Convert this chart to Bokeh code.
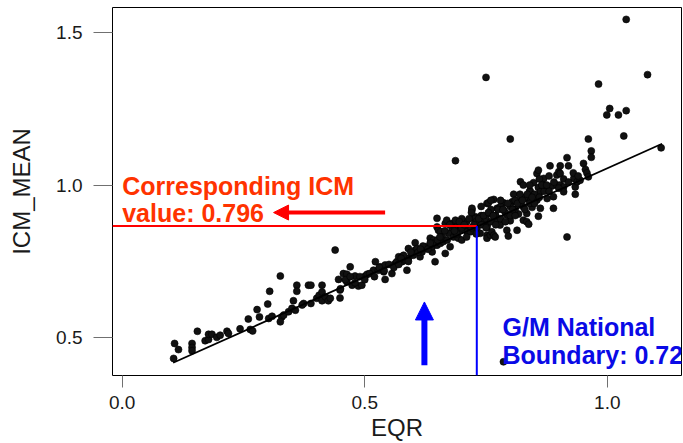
from bokeh.plotting import figure
from bokeh.models import Arrow, NormalHead, FixedTicker, NumeralTickFormatter, ColumnDataSource
from bokeh.core.properties import value
from bokeh.embed import file_html
from bokeh.resources import INLINE

# ---- data ----
eqr = [
    0.106, 0.108, 0.116, 0.144, 0.144, 0.144, 0.155, 0.171, 0.178, 0.178,
    0.185, 0.195, 0.202, 0.216, 0.219, 0.243, 0.260, 0.264, 0.269, 0.278,
    0.283, 0.300, 0.304, 0.302, 0.309, 0.326, 0.329, 0.326, 0.333, 0.343,
    0.350, 0.353, 0.360, 0.360, 0.357, 0.374, 0.371, 0.384, 0.389, 0.389,
    0.401, 0.406, 0.412, 0.412, 0.412, 0.419, 0.425, 0.429, 0.439, 0.446,
    0.449, 0.449, 0.456, 0.463, 0.463, 0.470, 0.474, 0.480, 0.487, 0.494,
    0.501, 0.505, 0.518, 0.522, 0.528, 0.532, 0.539, 0.542, 0.542, 0.556,
    0.563, 0.566, 0.570, 0.577, 0.577, 0.584, 0.587, 0.590, 0.590, 0.604,
    0.604, 0.608, 0.614, 0.618, 0.618, 0.625, 0.635, 0.639, 0.639, 0.642,
    0.645, 0.649, 0.649, 0.649, 0.652, 0.656, 0.656, 0.662, 0.666, 0.666,
    0.669, 0.673, 0.676, 0.680, 0.683, 0.687, 0.687, 0.687, 0.690, 0.693,
    0.697, 0.697, 0.700, 0.707, 0.711, 0.718, 0.721, 0.721, 0.724, 0.728,
    0.728, 0.731, 0.738, 0.738, 0.742, 0.745, 0.750, 0.752, 0.752, 0.752,
    0.752, 0.752, 0.755, 0.759, 0.759, 0.762, 0.766, 0.766, 0.769, 0.773,
    0.773, 0.779, 0.786, 0.786, 0.786, 0.793, 0.793, 0.796, 0.800, 0.800,
    0.804, 0.807, 0.807, 0.814, 0.817, 0.817, 0.821, 0.827, 0.827, 0.827,
    0.834, 0.834, 0.834, 0.838, 0.841, 0.845, 0.848, 0.855, 0.855, 0.858,
    0.858, 0.858, 0.862, 0.862, 0.869, 0.876, 0.876, 0.882, 0.886, 0.889,
    0.889, 0.896, 0.896, 0.900, 0.903, 0.903, 0.903, 0.910, 0.910, 0.917,
    0.917, 0.920, 0.931, 0.934, 0.934, 0.938, 0.944, 0.951, 0.955, 0.958,
    0.961, 0.961, 0.967, 0.967, 0.982, 0.999, 1.005, 1.023, 1.034, 1.039,
    1.039, 1.083, 1.111,
    0.45, 0.46, 0.47, 0.48, 0.49, 0.50, 0.51, 0.52, 0.53, 0.54,
    0.55, 0.56, 0.57, 0.58, 0.59, 0.60, 0.61, 0.62, 0.63, 0.64,
    0.65, 0.66, 0.67, 0.68, 0.69, 0.70, 0.71, 0.72, 0.73, 0.74,
    0.74, 0.75, 0.76, 0.76, 0.77, 0.78, 0.78, 0.79, 0.80, 0.80,
    0.81, 0.81, 0.82, 0.83, 0.84, 0.84, 0.85, 0.86, 0.87, 0.87,
    0.88, 0.89, 0.90, 0.91, 0.92, 0.93, 0.94, 0.71, 0.73, 0.75,
    0.77, 0.79, 0.81, 0.83, 0.85, 0.70, 0.72, 0.74, 0.76, 0.78,
    0.82, 0.86, 0.88, 0.84,
    0.575, 0.595, 0.615, 0.635, 0.655, 0.665, 0.675, 0.685, 0.695, 0.705,
    0.715, 0.725, 0.735, 0.745, 0.755, 0.765, 0.775, 0.785, 0.795, 0.805,
    0.815, 0.825, 0.835, 0.845, 0.865, 0.875,
]
icm_mean = [
    0.432, 0.481, 0.461, 0.481, 0.468, 0.457, 0.521, 0.490, 0.494, 0.511,
    0.511, 0.501, 0.508, 0.521, 0.514, 0.529, 0.561, 0.527, 0.522, 0.592,
    0.568, 0.610, 0.652, 0.563, 0.570, 0.702, 0.568, 0.552, 0.574, 0.585,
    0.596, 0.621, 0.672, 0.652, 0.590, 0.612, 0.607, 0.672, 0.672, 0.612,
    0.629, 0.639, 0.672, 0.650, 0.621, 0.634, 0.621, 0.629, 0.787, 0.691,
    0.630, 0.656, 0.710, 0.708, 0.683, 0.732, 0.672, 0.702, 0.669, 0.672,
    0.702, 0.708, 0.721, 0.749, 0.721, 0.732, 0.716, 0.738, 0.691, 0.710,
    0.743, 0.749, 0.765, 0.765, 0.749, 0.754, 0.721, 0.760, 0.792, 0.811,
    0.787, 0.792, 0.765, 0.787, 0.781, 0.798, 0.826, 0.781, 0.798, 0.820,
    0.749, 0.803, 0.891, 0.863, 0.852, 0.809, 0.847, 0.815, 0.874, 0.776,
    0.885, 0.842, 0.798, 0.874, 0.830, 0.885, 0.847, 1.080, 0.863, 0.826,
    0.852, 0.869, 0.820, 0.863, 0.847, 0.847, 0.918, 0.924, 0.891, 0.896,
    0.891, 0.858, 0.874, 0.842, 0.891, 0.885, 1.353, 0.836, 0.940, 0.869,
    0.863, 0.826, 0.942, 0.836, 0.907, 0.847, 0.953, 0.836, 0.830, 0.924,
    0.888, 0.869, 0.942, 0.918, 0.421, 0.902, 0.852, 0.833, 0.883, 1.151,
    0.945, 0.970, 0.920, 0.852, 0.949, 0.905, 1.011, 1.000, 0.929, 0.885,
    0.880, 0.956, 0.907, 0.872, 0.981, 0.927, 1.008, 1.038, 0.951, 1.049,
    0.992, 0.898, 0.978, 0.924, 1.022, 0.992, 0.956, 1.063, 0.997, 0.962,
    0.924, 1.033, 1.000, 1.044, 1.063, 1.038, 1.000, 0.994, 0.978, 1.090,
    0.830, 1.063, 1.022, 0.994, 0.970, 1.011, 1.016, 1.071, 1.051, 1.040,
    1.151, 1.027, 1.112, 1.091, 1.331, 1.230, 1.251, 1.230, 1.161, 1.543,
    1.244, 1.362, 1.122,
    0.66, 0.69, 0.70, 0.68, 0.70, 0.69, 0.71, 0.70, 0.73, 0.72,
    0.74, 0.73, 0.74, 0.77, 0.75, 0.77, 0.78, 0.80, 0.79, 0.81,
    0.82, 0.83, 0.82, 0.86, 0.84, 0.86, 0.88, 0.86, 0.88, 0.87,
    0.90, 0.89, 0.88, 0.92, 0.90, 0.89, 0.93, 0.91, 0.93, 0.90,
    0.92, 0.95, 0.94, 0.96, 0.94, 0.98, 0.97, 0.96, 0.98, 1.00,
    0.98, 1.01, 0.99, 1.02, 1.01, 1.04, 1.03, 0.83, 0.84, 0.86,
    0.87, 0.88, 0.90, 0.92, 0.94, 0.89, 0.91, 0.93, 0.95, 0.95,
    0.97, 1.02, 1.03, 1.00,
    0.76, 0.78, 0.79, 0.81, 0.83, 0.85, 0.87, 0.85, 0.88, 0.87,
    0.89, 0.87, 0.89, 0.90, 0.91, 0.90, 0.92, 0.92, 0.94, 0.92,
    0.94, 0.95, 0.97, 0.96, 1.00, 1.00,
]

fit_x = [0.105, 1.113]          # extent of the fitted line
fit_intercept = 0.343
fit_slope = 0.712

boundary_eqr = 0.731            # G/M boundary (vertical blue line)
icm_at_boundary = 0.866         # corresponding ICM (horizontal red line)

red_arrow_x = [0.542, 0.312]
red_arrow_y = 0.910
blue_arrow_x = 0.623
blue_arrow_y = [0.410, 0.617]

red_text = ["Corresponding ICM", "value: 0.796"]
red_text_pos = ([0.0, 0.0], [0.998, 0.908])
blue_text = ["G/M National", "Boundary: 0.72"]
blue_text_pos = ([0.784, 0.784], [0.534, 0.443])

x_ticks = [0.0, 0.5, 1.0]
y_ticks = [0.5, 1.0, 1.5]
x_lim = (-0.020, 1.153)
y_lim = (0.376, 1.582)

FONT = "Liberation Sans"

p = figure(width=683, height=443, x_range=x_lim, y_range=y_lim,
           output_backend="svg", toolbar_location=None,
           min_border_left=112, min_border_right=2, min_border_top=7,
           min_border_bottom=68)
p.background_fill_color = "white"
p.border_fill_color = "white"
p.outline_line_color = "black"
p.outline_line_width = 1
p.outline_line_alpha = 1.0
p.xgrid.visible = False
p.ygrid.visible = False

for ax in (p.xaxis[0], p.yaxis[0]):
    ax.axis_line_color = None
    ax.major_tick_line_color = "#707070"
    ax.major_tick_line_width = 1
    ax.minor_tick_line_color = None
    ax.major_tick_in = 0
    ax.major_label_text_font = FONT
    ax.major_label_text_font_size = "19px"
    ax.major_label_text_color = "#1a1a1a"
    ax.axis_label_text_font = FONT
    ax.axis_label_text_font_size = "24px"
    ax.axis_label_text_font_style = "normal"
    ax.axis_label_text_color = "#1a1a1a"
    ax.formatter = NumeralTickFormatter(format="0.0")

p.xaxis.ticker = FixedTicker(ticks=x_ticks)
p.yaxis.ticker = FixedTicker(ticks=y_ticks)
p.xaxis.axis_label = "EQR"
p.yaxis.axis_label = "ICM_MEAN"
p.xaxis.major_tick_out = 12
p.yaxis.major_tick_out = 19
p.xaxis.major_label_standoff = 8
p.yaxis.major_label_standoff = 11
p.xaxis.axis_label_standoff = 2
p.yaxis.axis_label_standoff = 18

# scatter
src = ColumnDataSource(dict(x=eqr, y=icm_mean))
p.scatter("x", "y", source=src, size=7, fill_color="#111111",
          line_color="#000000", line_width=0.6)

# fitted line
fit_y = [fit_intercept + fit_slope * v for v in fit_x]
p.line(fit_x, fit_y, line_color="black", line_width=1.8)

# reference lines (drawn over the points)
p.segment(x0=[x_lim[0]], y0=[icm_at_boundary], x1=[boundary_eqr], y1=[icm_at_boundary],
          line_color="#ff0000", line_width=2)
p.segment(x0=[boundary_eqr], y0=[icm_at_boundary], x1=[boundary_eqr], y1=[y_lim[0]],
          line_color="#0000ff", line_width=2)

# arrows
p.add_layout(Arrow(end=NormalHead(size=15, fill_color="#ff0000", line_color="#ff0000"),
                   x_start=red_arrow_x[0], y_start=red_arrow_y,
                   x_end=red_arrow_x[1], y_end=red_arrow_y,
                   line_color="#ff0000", line_width=4))
p.add_layout(Arrow(end=NormalHead(size=18, fill_color="#0000ff", line_color="#0000ff"),
                   x_start=blue_arrow_x, y_start=blue_arrow_y[0],
                   x_end=blue_arrow_x, y_end=blue_arrow_y[1],
                   line_color="#0000ff", line_width=6))

# texts
p.text(x=red_text_pos[0], y=red_text_pos[1], text=red_text,
       text_font=value(FONT), text_font_style="bold", text_font_size="25px",
       text_color="#ff3300", text_baseline="alphabetic", text_align="left")
p.text(x=blue_text_pos[0], y=blue_text_pos[1], text=blue_text,
       text_font=value(FONT), text_font_style="bold", text_font_size="25px",
       text_color="#0a0ae6", text_baseline="alphabetic", text_align="left")

open("out.html", "w").write(file_html(p, INLINE))
